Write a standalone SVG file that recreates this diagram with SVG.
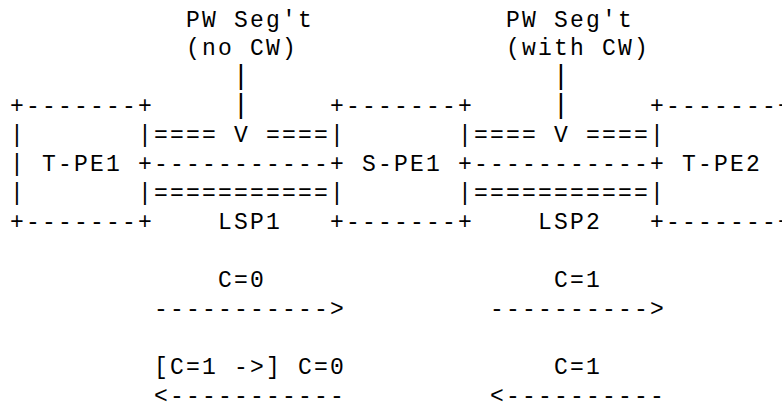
<svg xmlns="http://www.w3.org/2000/svg" width="782" height="410" viewBox="0 0 782 410" xml:space="preserve">
<style>
text { font-family: "Liberation Mono", "Courier New", monospace; font-size: 23px; letter-spacing: 2.2px; fill: #000; white-space: pre; }
text.bar { font-size: 28px; letter-spacing: 0; }
</style>
<rect x="0" y="0" width="782" height="410" fill="#fff"/>
<g id="t-pe1">
<text x="10.1" y="113.35">+-------+</text>
<text x="10.1" y="142.3">|       |</text>
<text x="10.1" y="171.25">| T-PE1 +</text>
<text x="10.1" y="200.2">|       |</text>
<text x="10.1" y="229.15">+-------+</text>
</g>
<g id="s-pe1">
<text x="330.1" y="113.35">+-------+</text>
<text x="330.1" y="142.3">|       |</text>
<text x="330.1" y="171.25">+ S-PE1 +</text>
<text x="330.1" y="200.2">|       |</text>
<text x="330.1" y="229.15">+-------+</text>
</g>
<g id="t-pe2">
<text x="650.1" y="113.35">+-------+</text>
<text x="650.1" y="142.3">|</text>
<text x="650.1" y="171.25">+ T-PE2</text>
<text x="650.1" y="200.2">|</text>
<text x="650.1" y="229.15">+-------+</text>
</g>
<g id="connectors">
<g id="lsp1">
<text x="154.1" y="142.3">====</text>
<text x="266.1" y="142.3">====</text>
<text x="154.1" y="171.25">-----------</text>
<text x="154.1" y="200.2">===========</text>
<text x="218.1" y="229.15">LSP1</text>
</g>
<g id="lsp2">
<text x="474.1" y="142.3">====</text>
<text x="586.1" y="142.3">====</text>
<text x="474.1" y="171.25">-----------</text>
<text x="474.1" y="200.2">===========</text>
<text x="538.1" y="229.15">LSP2</text>
</g>
<g id="pw-seg1-pointer">
<text class="bar" x="232.6" y="84.4">|</text>
<text class="bar" x="232.6" y="113.35">|</text>
<text x="234.1" y="142.3">V</text>
</g>
<g id="pw-seg2-pointer">
<text class="bar" x="552.6" y="84.4">|</text>
<text class="bar" x="552.6" y="113.35">|</text>
<text x="554.1" y="142.3">V</text>
</g>
<g id="arrows">
<text x="154.1" y="316">-----------&gt;</text>
<text x="490.1" y="316">----------&gt;</text>
<text x="154.1" y="402.85">&lt;-----------</text>
<text x="490.1" y="402.85">&lt;----------</text>
</g>
</g>
<g id="labels">
<text x="186.1" y="26.5">PW Seg't</text>
<text x="186.1" y="55.45">(no CW)</text>
<text x="506.1" y="26.5">PW Seg't</text>
<text x="506.1" y="55.45">(with CW)</text>
<text x="218.1" y="287.05">C=0</text>
<text x="554.1" y="287.05">C=1</text>
<text x="154.1" y="373.9">[C=1 -&gt;] C=0</text>
<text x="554.1" y="373.9">C=1</text>
</g>
</svg>
